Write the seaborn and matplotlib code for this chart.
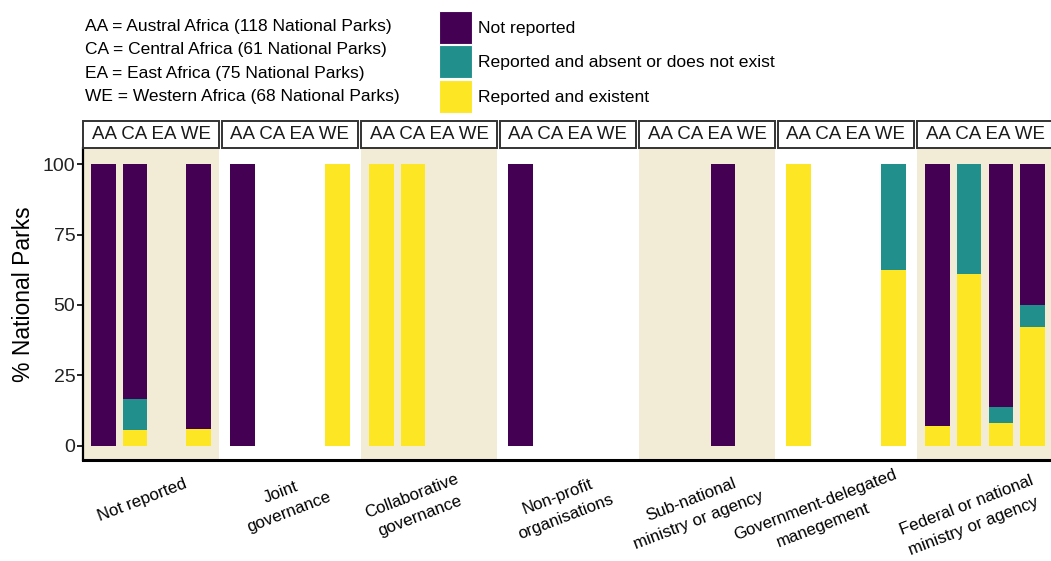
import matplotlib
matplotlib.use("Agg")
import matplotlib.pyplot as plt
from matplotlib.patches import Patch, Rectangle
import numpy as np
import pandas as pd
import seaborn as sns

# ---- data -------------------------------------------------------------
regions = ["AA", "CA", "EA", "WE"]
governance = [
    "Not reported",
    "Joint\ngovernance",
    "Collaborative\ngovernance",
    "Non-profit\norganisations",
    "Sub-national\nministry or agency",
    "Government-delegated\nmanegement",
    "Federal or national\nministry or agency",
]
# % of national parks per region (AA, CA, EA, WE) for each governance type
existent = [
    [0, 5.7, 0, 5.9],
    [0, 0, 0, 100],
    [100, 100, 0, 0],
    [0, 0, 0, 0],
    [0, 0, 0, 0],
    [100, 0, 0, 62.4],
    [7.2, 61.0, 8.0, 42.1],
]
absent = [
    [0, 11.0, 0, 0],
    [0, 0, 0, 0],
    [0, 0, 0, 0],
    [0, 0, 0, 0],
    [0, 0, 0, 0],
    [0, 0, 0, 37.6],
    [0, 39.0, 5.8, 7.9],
]
not_reported = [
    [100, 83.3, 0, 94.1],
    [100, 0, 0, 0],
    [0, 0, 0, 0],
    [100, 0, 0, 0],
    [0, 0, 100, 0],
    [0, 0, 0, 0],
    [92.8, 0, 86.2, 50.0],
]
status_labels = ["Not reported", "Reported and absent or does not exist",
                 "Reported and existent"]
region_notes = [
    "AA = Austral Africa (118 National Parks)",
    "CA = Central Africa (61 National Parks)",
    "EA = East Africa (75 National Parks)",
    "WE = Western Africa (68 National Parks)",
]

# ---- long table with cumulative stack heights --------------------------
rows = []
for g, ex, ab, nr in zip(governance, existent, absent, not_reported):
    for r, e, a, n in zip(regions, ex, ab, nr):
        rows.append({"governance": g, "region": r,
                     "low": e, "mid": e + a, "top": e + a + n})
df = pd.DataFrame(rows)

# ---- style --------------------------------------------------------------
sns.set_theme(style="white")
plt.rcParams["font.family"] = ["Liberation Sans", "DejaVu Sans"]
plt.rcParams["text.color"] = "black"

PURPLE, TEAL, YELLOW = "#440154", "#21908C", "#FDE725"
BEIGE = "#F2EBD5"

W, H = 1051, 561
fig = plt.figure(figsize=(W / 100, H / 100), dpi=100)


def fx(px):
    return px / W


def fy(py):
    return 1 - py / H


panel_left, panel_pitch, panel_w = 83, 139, 136
panel_top, panel_bottom = 148, 460
strip_h = 27

label_centres = [(142, 500), (285, 502), (416, 506), (562, 507),
                 (695, 510), (819, 515), (970, 516)]

for i, g in enumerate(governance):
    x0 = panel_left + panel_pitch * i
    ax = fig.add_axes([fx(x0), fy(panel_bottom), panel_w / W,
                       (panel_bottom - panel_top) / H])
    ax.set_facecolor(BEIGE if i % 2 == 0 else "white")
    sub = df[df["governance"] == g]
    for col, colour in (("top", PURPLE), ("mid", TEAL), ("low", YELLOW)):
        sns.barplot(data=sub, x="region", y=col, order=regions, color=colour,
                    saturation=1, width=0.77, linewidth=0, errorbar=None,
                    ax=ax)
    ax.set_xlim(-0.65, 3.65)
    ax.set_ylim(-5, 105.7)
    ax.set_xlabel("")
    ax.set_ylabel("")
    ax.set_xticks([])
    for s in ("top", "right"):
        ax.spines[s].set_visible(False)
    ax.spines["bottom"].set_color("black")
    ax.spines["bottom"].set_linewidth(2.2)
    if i == 0:
        ax.spines["left"].set_color("black")
        ax.spines["left"].set_linewidth(1.6)
        ax.set_yticks([0, 25, 50, 75, 100])
        ax.tick_params(axis="y", left=True, length=4, width=1.2,
                       color="black", pad=1.5, labelsize=14,
                       labelcolor="#222222")
    else:
        ax.spines["left"].set_visible(False)
        ax.set_yticks([])

    # strip with region codes above each panel
    sh = strip_h / (panel_bottom - panel_top)
    ax.add_patch(Rectangle((0, 1.0), 1, sh, transform=ax.transAxes,
                           facecolor="white", edgecolor="#333333",
                           linewidth=1.4, clip_on=False, zorder=5))
    ax.text(0.5, 1.0 + sh / 2, " ".join(regions), transform=ax.transAxes,
            ha="center", va="center", fontsize=13.5, color="#1a1a1a",
            zorder=6)

    # governance type label under the panel
    cx, cy = label_centres[i]
    fig.text(fx(cx), fy(cy), g, rotation=21, rotation_mode="anchor",
             ha="center", va="center", multialignment="center",
             fontsize=12.2, linespacing=1.55, color="black")

fig.text(fx(23), fy(294), "% National Parks", rotation=90, ha="center",
         va="center", fontsize=16.5, color="black")

fig.text(fx(85), fy(19), "\n".join(region_notes), ha="left", va="top",
         fontsize=12.5, linespacing=1.7, color="black")

handles = [Patch(facecolor=c, edgecolor="white", linewidth=0.8)
           for c in (PURPLE, TEAL, YELLOW)]
fig.legend(handles, status_labels, loc="upper left",
           bbox_to_anchor=(fx(439), fy(11)), frameon=False, fontsize=12.6,
           handlelength=1.9, handleheight=2.5, labelspacing=0.1,
           handletextpad=0.35, borderpad=0, borderaxespad=0)

fig.savefig("out.png", dpi=100)
